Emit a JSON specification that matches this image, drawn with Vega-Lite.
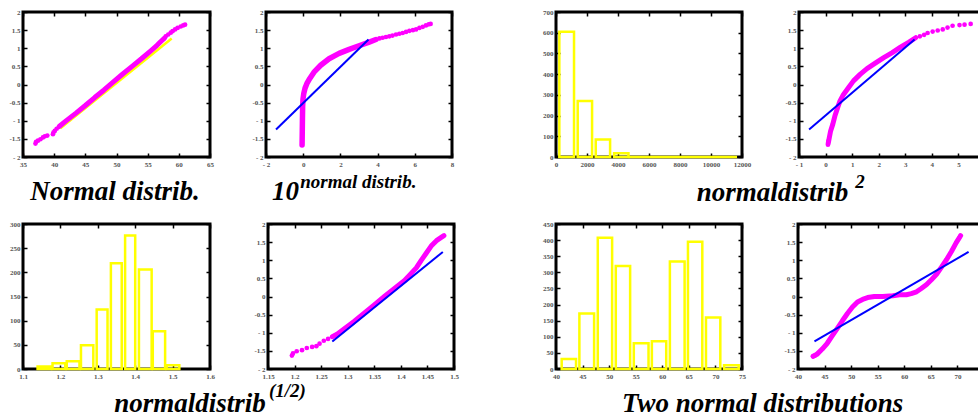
{
  "$schema": "https://vega.github.io/schema/vega-lite/v6.json",
  "padding": {"left": 7, "top": 6, "right": 0, "bottom": 0},
  "config": {
    "view": {"stroke": "#000000", "strokeWidth": 3},
    "axis": {"domain": false, "grid": false, "tickSize": -4, "tickWidth": 1.5, "tickColor": "#000000", "labelFont": "Liberation Serif", "labelFontSize": 7, "labelFontWeight": "bold", "labelColor": "#555555", "labelPadding": 7, "labelFlush": false, "labelOverlap": false, "labelBound": false},
    "title": {"font": "Liberation Serif", "fontSize": 27, "fontStyle": "italic", "fontWeight": "bold", "color": "#000000"}
  },
  "datasets": {
    "p1_fit": [{"x": 41.0, "y": -1.21}, {"x": 58.85, "y": 1.27}],
    "p1_dense": [{"x": 40.8, "y": -1.16}, {"x": 42.0, "y": -0.99}, {"x": 43.5, "y": -0.79}, {"x": 45.0, "y": -0.58}, {"x": 46.5, "y": -0.36}, {"x": 48.0, "y": -0.15}, {"x": 49.5, "y": 0.07}, {"x": 51.0, "y": 0.29}, {"x": 52.5, "y": 0.5}, {"x": 54.0, "y": 0.71}, {"x": 55.5, "y": 0.93}, {"x": 56.5, "y": 1.08}, {"x": 57.2, "y": 1.2}, {"x": 57.7, "y": 1.28}],
    "p1_dots": [{"x": 37.0, "y": -1.63}, {"x": 37.1, "y": -1.58}, {"x": 37.4, "y": -1.55}, {"x": 37.8, "y": -1.51}, {"x": 38.2, "y": -1.46}, {"x": 38.5, "y": -1.43}, {"x": 38.9, "y": -1.41}, {"x": 39.8, "y": -1.37}, {"x": 39.9, "y": -1.32}, {"x": 40.1, "y": -1.28}, {"x": 40.4, "y": -1.22}, {"x": 57.9, "y": 1.33}, {"x": 58.3, "y": 1.38}, {"x": 58.7, "y": 1.43}, {"x": 59.0, "y": 1.47}, {"x": 59.4, "y": 1.52}, {"x": 59.8, "y": 1.56}, {"x": 60.3, "y": 1.6}, {"x": 60.7, "y": 1.63}, {"x": 61.0, "y": 1.65}],
    "p2_fit": [{"x": -1.46, "y": -1.24}, {"x": 3.51, "y": 1.24}],
    "p2_dense": [{"x": -0.06, "y": -1.67}, {"x": -0.05, "y": -1.3}, {"x": -0.04, "y": -0.9}, {"x": -0.03, "y": -0.6}, {"x": -0.01, "y": -0.4}, {"x": 0.03, "y": -0.25}, {"x": 0.1, "y": -0.1}, {"x": 0.2, "y": 0.03}, {"x": 0.31, "y": 0.13}, {"x": 0.58, "y": 0.34}, {"x": 0.94, "y": 0.53}, {"x": 1.39, "y": 0.71}, {"x": 1.93, "y": 0.86}, {"x": 2.47, "y": 0.97}, {"x": 3.0, "y": 1.07}, {"x": 3.55, "y": 1.17}, {"x": 3.91, "y": 1.24}],
    "p2_dots": [{"x": 4.1, "y": 1.27}, {"x": 4.27, "y": 1.29}, {"x": 4.45, "y": 1.31}, {"x": 4.63, "y": 1.33}, {"x": 4.8, "y": 1.35}, {"x": 4.99, "y": 1.38}, {"x": 5.17, "y": 1.4}, {"x": 5.35, "y": 1.42}, {"x": 5.53, "y": 1.45}, {"x": 5.71, "y": 1.48}, {"x": 5.9, "y": 1.5}, {"x": 6.07, "y": 1.52}, {"x": 6.25, "y": 1.56}, {"x": 6.43, "y": 1.59}, {"x": 6.6, "y": 1.63}, {"x": 6.75, "y": 1.66}, {"x": 6.85, "y": 1.67}],
    "p3_bins": [{"lo": 215, "hi": 1163, "count": 605}, {"lo": 1400, "hi": 2327, "count": 270}, {"lo": 2564, "hi": 3490, "count": 85}, {"lo": 3749, "hi": 4675, "count": 18}, {"lo": 4675, "hi": 11680, "count": 0}],
    "p4_fit": [{"x": -0.62, "y": -1.24}, {"x": 3.35, "y": 1.24}],
    "p4_dense": [{"x": 0.1, "y": -1.62}, {"x": 0.14, "y": -1.47}, {"x": 0.19, "y": -1.28}, {"x": 0.27, "y": -1.1}, {"x": 0.35, "y": -0.87}, {"x": 0.45, "y": -0.65}, {"x": 0.54, "y": -0.46}, {"x": 0.67, "y": -0.28}, {"x": 0.86, "y": -0.09}, {"x": 1.05, "y": 0.1}, {"x": 1.3, "y": 0.28}, {"x": 1.56, "y": 0.44}, {"x": 1.87, "y": 0.59}, {"x": 2.19, "y": 0.74}, {"x": 2.51, "y": 0.88}, {"x": 2.82, "y": 1.03}, {"x": 3.14, "y": 1.17}, {"x": 3.39, "y": 1.29}],
    "p4_dots": [{"x": 0.09, "y": -1.66}, {"x": 0.11, "y": -1.56}, {"x": 3.55, "y": 1.33}, {"x": 3.71, "y": 1.37}, {"x": 3.84, "y": 1.42}, {"x": 4.03, "y": 1.46}, {"x": 4.22, "y": 1.49}, {"x": 4.41, "y": 1.52}, {"x": 4.59, "y": 1.57}, {"x": 4.78, "y": 1.62}, {"x": 5.04, "y": 1.64}, {"x": 5.23, "y": 1.65}, {"x": 5.46, "y": 1.67}],
    "p5_bins": [{"lo": 1.139, "hi": 1.175, "count": 5}, {"lo": 1.179, "hi": 1.213, "count": 12}, {"lo": 1.217, "hi": 1.251, "count": 16}, {"lo": 1.255, "hi": 1.288, "count": 49}, {"lo": 1.297, "hi": 1.326, "count": 123}, {"lo": 1.335, "hi": 1.364, "count": 219}, {"lo": 1.373, "hi": 1.4, "count": 276}, {"lo": 1.41, "hi": 1.444, "count": 206}, {"lo": 1.447, "hi": 1.48, "count": 78}, {"lo": 1.484, "hi": 1.518, "count": 8}],
    "p6_fit": [{"x": 1.271, "y": -1.24}, {"x": 1.479, "y": 1.23}],
    "p6_dense": [{"x": 1.271, "y": -1.11}, {"x": 1.28, "y": -1.04}, {"x": 1.293, "y": -0.9}, {"x": 1.312, "y": -0.69}, {"x": 1.331, "y": -0.46}, {"x": 1.35, "y": -0.23}, {"x": 1.369, "y": 0.0}, {"x": 1.388, "y": 0.22}, {"x": 1.407, "y": 0.44}, {"x": 1.419, "y": 0.63}, {"x": 1.429, "y": 0.79}, {"x": 1.438, "y": 0.99}, {"x": 1.448, "y": 1.2}, {"x": 1.457, "y": 1.39}, {"x": 1.467, "y": 1.54}, {"x": 1.476, "y": 1.63}, {"x": 1.481, "y": 1.68}],
    "p6_dots": [{"x": 1.195, "y": -1.63}, {"x": 1.197, "y": -1.57}, {"x": 1.204, "y": -1.51}, {"x": 1.214, "y": -1.48}, {"x": 1.223, "y": -1.42}, {"x": 1.233, "y": -1.39}, {"x": 1.241, "y": -1.37}, {"x": 1.247, "y": -1.3}, {"x": 1.255, "y": -1.22}, {"x": 1.263, "y": -1.17}],
    "p7_bins": [{"lo": 41.07, "hi": 43.77, "count": 31}, {"lo": 44.4, "hi": 47.17, "count": 172}, {"lo": 47.86, "hi": 50.56, "count": 407}, {"lo": 51.25, "hi": 53.95, "count": 320}, {"lo": 54.64, "hi": 57.41, "count": 80}, {"lo": 58.04, "hi": 60.74, "count": 86}, {"lo": 61.43, "hi": 64.2, "count": 334}, {"lo": 64.83, "hi": 67.53, "count": 395}, {"lo": 68.22, "hi": 70.92, "count": 160}, {"lo": 71.62, "hi": 74.38, "count": 12}],
    "p8_fit": [{"x": 43.1, "y": -1.24}, {"x": 72.1, "y": 1.23}],
    "p8_dense": [{"x": 42.85, "y": -1.65}, {"x": 43.6, "y": -1.59}, {"x": 44.56, "y": -1.45}, {"x": 45.5, "y": -1.29}, {"x": 46.46, "y": -1.08}, {"x": 47.4, "y": -0.88}, {"x": 48.35, "y": -0.67}, {"x": 49.3, "y": -0.47}, {"x": 50.25, "y": -0.29}, {"x": 51.2, "y": -0.15}, {"x": 52.15, "y": -0.08}, {"x": 53.1, "y": -0.03}, {"x": 54.37, "y": 0.0}, {"x": 55.95, "y": 0.0}, {"x": 57.85, "y": 0.02}, {"x": 59.1, "y": 0.05}, {"x": 60.4, "y": 0.05}, {"x": 61.3, "y": 0.08}, {"x": 62.3, "y": 0.13}, {"x": 63.2, "y": 0.22}, {"x": 64.2, "y": 0.33}, {"x": 65.1, "y": 0.46}, {"x": 66.1, "y": 0.62}, {"x": 67.0, "y": 0.81}, {"x": 67.97, "y": 1.02}, {"x": 68.9, "y": 1.25}, {"x": 69.75, "y": 1.48}, {"x": 70.4, "y": 1.63}, {"x": 70.6, "y": 1.68}],
    "p8_dots": [{"x": 42.85, "y": -1.65}, {"x": 43.2, "y": -1.63}, {"x": 43.6, "y": -1.59}]
  },
  "vconcat": [
    {
      "hconcat": [
        {
          "hconcat": [
            {
              "width": 187, "height": 145,
              "title": {"text": "Normal distrib.", "orient": "bottom", "anchor": "middle", "frame": "group", "baseline": "alphabetic", "offset": 33, "dx": -1.5},
              "layer": [
                {"data": {"name": "p1_fit"}, "mark": {"type": "line", "color": "#FFFF00", "strokeWidth": 2.5},
                 "encoding": {
                   "x": {"field": "x", "type": "quantitative", "scale": {"domain": [35, 65], "nice": false, "zero": false}, "axis": {"orient": "bottom", "values": [35, 40, 45, 50, 55, 60, 65], "title": null, "labelExpr": "(datum.value < 0 ? (datum.value == floor(datum.value) ? '- ' : '-') : '') + abs(datum.value)"}},
                   "y": {"field": "y", "type": "quantitative", "scale": {"domain": [-2, 2], "nice": false, "zero": false}, "axis": {"orient": "left", "values": [-2, -1.5, -1, -0.5, 0, 0.5, 1, 1.5, 2], "title": null, "labelExpr": "(datum.value < 0 ? (datum.value == floor(datum.value) ? '- ' : '-') : '') + abs(datum.value)"}}}},
                {"data": {"name": "p1_dense"}, "mark": {"type": "line", "color": "#FF00FF", "strokeWidth": 5, "strokeCap": "round", "strokeJoin": "round"},
                 "encoding": {
                   "x": {"field": "x", "type": "quantitative", "scale": {"domain": [35, 65], "nice": false, "zero": false}, "axis": null},
                   "y": {"field": "y", "type": "quantitative", "scale": {"domain": [-2, 2], "nice": false, "zero": false}, "axis": null}}},
                {"data": {"name": "p1_dots"}, "mark": {"type": "circle", "color": "#FF00FF", "size": 22, "opacity": 1},
                 "encoding": {
                   "x": {"field": "x", "type": "quantitative", "scale": {"domain": [35, 65], "nice": false, "zero": false}, "axis": null},
                   "y": {"field": "y", "type": "quantitative", "scale": {"domain": [-2, 2], "nice": false, "zero": false}, "axis": null}}},
                {"data": {"name": "p1_fit"}, "mark": {"type": "point", "opacity": 0},
                 "encoding": {
                   "x": {"field": "x", "type": "quantitative", "scale": {"domain": [35, 65], "nice": false, "zero": false}, "axis": {"orient": "top", "values": [35, 40, 45, 50, 55, 60, 65], "title": null, "labels": false}},
                   "y": {"field": "y", "type": "quantitative", "scale": {"domain": [-2, 2], "nice": false, "zero": false}, "axis": {"orient": "right", "values": [-2, -1.5, -1, -0.5, 0, 0.5, 1, 1.5, 2], "title": null, "labels": false}}}}
              ],
              "resolve": {"axis": {"x": "independent", "y": "independent"}}
            },
            {
              "title": {"text": "normal distrib.", "orient": "bottom", "anchor": "end", "frame": "bounds", "align": "left", "dx": -155, "baseline": "alphabetic", "offset": -18.5, "fontSize": 19},
              "hconcat": [
                {
                  "width": 186, "height": 145,
                  "title": {"text": "10", "orient": "bottom", "anchor": "start", "frame": "group", "align": "right", "dx": 33, "baseline": "alphabetic", "offset": 33},
                  "layer": [
                    {"data": {"name": "p2_dense"}, "mark": {"type": "line", "color": "#FF00FF", "strokeWidth": 5.5, "strokeCap": "round", "strokeJoin": "round"},
                     "encoding": {
                       "x": {"field": "x", "type": "quantitative", "scale": {"domain": [-2, 8], "nice": false, "zero": false}, "axis": {"orient": "bottom", "values": [-2, 0, 2, 4, 6, 8], "title": null, "labelExpr": "(datum.value < 0 ? (datum.value == floor(datum.value) ? '- ' : '-') : '') + abs(datum.value)"}},
                       "y": {"field": "y", "type": "quantitative", "scale": {"domain": [-2, 2], "nice": false, "zero": false}, "axis": {"orient": "left", "values": [-2, -1.5, -1, -0.5, 0, 0.5, 1, 1.5, 2], "title": null, "labelExpr": "(datum.value < 0 ? (datum.value == floor(datum.value) ? '- ' : '-') : '') + abs(datum.value)"}}}},
                    {"data": {"name": "p2_dots"}, "mark": {"type": "circle", "color": "#FF00FF", "size": 22, "opacity": 1},
                     "encoding": {
                       "x": {"field": "x", "type": "quantitative", "scale": {"domain": [-2, 8], "nice": false, "zero": false}, "axis": null},
                       "y": {"field": "y", "type": "quantitative", "scale": {"domain": [-2, 2], "nice": false, "zero": false}, "axis": null}}},
                    {"data": {"name": "p2_fit"}, "mark": {"type": "line", "color": "#0000FF", "strokeWidth": 2},
                     "encoding": {
                       "x": {"field": "x", "type": "quantitative", "scale": {"domain": [-2, 8], "nice": false, "zero": false}, "axis": null},
                       "y": {"field": "y", "type": "quantitative", "scale": {"domain": [-2, 2], "nice": false, "zero": false}, "axis": null}}},
                    {"data": {"name": "p2_fit"}, "mark": {"type": "point", "opacity": 0},
                     "encoding": {
                       "x": {"field": "x", "type": "quantitative", "scale": {"domain": [-2, 8], "nice": false, "zero": false}, "axis": {"orient": "top", "values": [-2, 0, 2, 4, 6, 8], "title": null, "labels": false}},
                       "y": {"field": "y", "type": "quantitative", "scale": {"domain": [-2, 2], "nice": false, "zero": false}, "axis": {"orient": "right", "values": [-2, -1.5, -1, -0.5, 0, 0.5, 1, 1.5, 2], "title": null, "labels": false}}}}
                  ],
                  "resolve": {"axis": {"x": "independent", "y": "independent"}}
                }
              ]
            }
          ],
          "spacing": 35
        },
        {
          "title": {"text": "2", "orient": "bottom", "anchor": "end", "frame": "bounds", "align": "left", "dx": -132, "baseline": "alphabetic", "offset": -17.5, "fontSize": 19},
          "hconcat": [
            {
              "title": {"text": "normaldistrib", "orient": "bottom", "anchor": "end", "frame": "bounds", "align": "right", "dx": -139, "baseline": "alphabetic", "offset": 32},
              "spacing": 30,
              "hconcat": [
                {
                  "width": 186, "height": 145,
                  "layer": [
                    {"data": {"name": "p3_bins"}, "mark": {"type": "rect", "fillOpacity": 0, "stroke": "#FFFF00", "strokeWidth": 2.5},
                     "encoding": {
                       "x": {"field": "lo", "type": "quantitative", "scale": {"domain": [0, 12000], "nice": false, "zero": false}, "axis": {"orient": "bottom", "values": [0, 2000, 4000, 6000, 8000, 10000, 12000], "title": null, "labelExpr": "(datum.value < 0 ? (datum.value == floor(datum.value) ? '- ' : '-') : '') + abs(datum.value)"}},
                       "x2": {"field": "hi"},
                       "y": {"field": "count", "type": "quantitative", "scale": {"domain": [0, 700], "nice": false, "zero": false}, "axis": {"orient": "left", "values": [0, 100, 200, 300, 400, 500, 600, 700], "title": null, "labelExpr": "(datum.value < 0 ? (datum.value == floor(datum.value) ? '- ' : '-') : '') + abs(datum.value)"}},
                       "y2": {"datum": 0}}},
                    {"data": {"name": "p3_bins"}, "mark": {"type": "point", "opacity": 0},
                     "encoding": {
                       "x": {"field": "lo", "type": "quantitative", "scale": {"domain": [0, 12000], "nice": false, "zero": false}, "axis": {"orient": "top", "values": [0, 2000, 4000, 6000, 8000, 10000, 12000], "title": null, "labels": false}},
                       "y": {"field": "count", "type": "quantitative", "scale": {"domain": [0, 700], "nice": false, "zero": false}, "axis": {"orient": "right", "values": [0, 100, 200, 300, 400, 500, 600, 700], "title": null, "labels": false}}}}
                  ],
                  "resolve": {"axis": {"x": "independent", "y": "independent"}}
                },
                {
                  "width": 186, "height": 145,
                  "layer": [
                    {"data": {"name": "p4_dense"}, "mark": {"type": "line", "color": "#FF00FF", "strokeWidth": 5, "strokeCap": "round", "strokeJoin": "round"},
                     "encoding": {
                       "x": {"field": "x", "type": "quantitative", "scale": {"domain": [-1, 6], "nice": false, "zero": false}, "axis": {"orient": "bottom", "values": [-1, 0, 1, 2, 3, 4, 5], "title": null, "labelExpr": "(datum.value < 0 ? (datum.value == floor(datum.value) ? '- ' : '-') : '') + abs(datum.value)"}},
                       "y": {"field": "y", "type": "quantitative", "scale": {"domain": [-2, 2], "nice": false, "zero": false}, "axis": {"orient": "left", "values": [-2, -1.5, -1, -0.5, 0, 0.5, 1, 1.5, 2], "title": null, "labelExpr": "(datum.value < 0 ? (datum.value == floor(datum.value) ? '- ' : '-') : '') + abs(datum.value)"}}}},
                    {"data": {"name": "p4_dots"}, "mark": {"type": "circle", "color": "#FF00FF", "size": 22, "opacity": 1},
                     "encoding": {
                       "x": {"field": "x", "type": "quantitative", "scale": {"domain": [-1, 6], "nice": false, "zero": false}, "axis": null},
                       "y": {"field": "y", "type": "quantitative", "scale": {"domain": [-2, 2], "nice": false, "zero": false}, "axis": null}}},
                    {"data": {"name": "p4_fit"}, "mark": {"type": "line", "color": "#0000FF", "strokeWidth": 2},
                     "encoding": {
                       "x": {"field": "x", "type": "quantitative", "scale": {"domain": [-1, 6], "nice": false, "zero": false}, "axis": null},
                       "y": {"field": "y", "type": "quantitative", "scale": {"domain": [-2, 2], "nice": false, "zero": false}, "axis": null}}},
                    {"data": {"name": "p4_fit"}, "mark": {"type": "point", "opacity": 0},
                     "encoding": {
                       "x": {"field": "x", "type": "quantitative", "scale": {"domain": [-1, 6], "nice": false, "zero": false}, "axis": {"orient": "top", "values": [-1, 0, 1, 2, 3, 4, 5, 6], "title": null, "labels": false}},
                       "y": {"field": "y", "type": "quantitative", "scale": {"domain": [-2, 2], "nice": false, "zero": false}, "axis": {"orient": "right", "values": [-2, -1.5, -1, -0.5, 0, 0.5, 1, 1.5, 2], "title": null, "labels": false}}}}
                  ],
                  "resolve": {"axis": {"x": "independent", "y": "independent"}}
                }
              ]
            }
          ]
        }
      ],
      "spacing": 85
    },
    {
      "hconcat": [
        {
          "title": {"text": "(1/2)", "orient": "bottom", "anchor": "end", "frame": "bounds", "align": "left", "dx": -191, "baseline": "alphabetic", "offset": -19.5, "fontSize": 19},
          "hconcat": [
            {
              "title": {"text": "normaldistrib", "orient": "bottom", "anchor": "end", "frame": "bounds", "align": "right", "dx": -194, "baseline": "alphabetic", "offset": 31},
              "spacing": 36,
              "hconcat": [
                {
                  "width": 187, "height": 145,
                  "layer": [
                    {"data": {"name": "p5_bins"}, "mark": {"type": "rect", "fillOpacity": 0, "stroke": "#FFFF00", "strokeWidth": 2.5},
                     "encoding": {
                       "x": {"field": "lo", "type": "quantitative", "scale": {"domain": [1.1, 1.6], "nice": false, "zero": false}, "axis": {"orient": "bottom", "values": [1.1, 1.2, 1.3, 1.4, 1.5, 1.6], "title": null, "labelExpr": "(datum.value < 0 ? (datum.value == floor(datum.value) ? '- ' : '-') : '') + abs(datum.value)"}},
                       "x2": {"field": "hi"},
                       "y": {"field": "count", "type": "quantitative", "scale": {"domain": [0, 300], "nice": false, "zero": false}, "axis": {"orient": "left", "values": [0, 50, 100, 150, 200, 250, 300], "title": null, "labelExpr": "(datum.value < 0 ? (datum.value == floor(datum.value) ? '- ' : '-') : '') + abs(datum.value)"}},
                       "y2": {"datum": 0}}},
                    {"data": {"name": "p5_bins"}, "mark": {"type": "point", "opacity": 0},
                     "encoding": {
                       "x": {"field": "lo", "type": "quantitative", "scale": {"domain": [1.1, 1.6], "nice": false, "zero": false}, "axis": {"orient": "top", "values": [1.1, 1.2, 1.3, 1.4, 1.5, 1.6], "title": null, "labels": false}},
                       "y": {"field": "count", "type": "quantitative", "scale": {"domain": [0, 300], "nice": false, "zero": false}, "axis": {"orient": "right", "values": [0, 50, 100, 150, 200, 250, 300], "title": null, "labels": false}}}}
                  ],
                  "resolve": {"axis": {"x": "independent", "y": "independent"}}
                },
                {
                  "width": 186, "height": 145,
                  "layer": [
                    {"data": {"name": "p6_dense"}, "mark": {"type": "line", "color": "#FF00FF", "strokeWidth": 5, "strokeCap": "round", "strokeJoin": "round"},
                     "encoding": {
                       "x": {"field": "x", "type": "quantitative", "scale": {"domain": [1.15, 1.5], "nice": false, "zero": false}, "axis": {"orient": "bottom", "values": [1.15, 1.2, 1.25, 1.3, 1.35, 1.4, 1.45, 1.5], "title": null, "labelExpr": "(datum.value < 0 ? (datum.value == floor(datum.value) ? '- ' : '-') : '') + abs(datum.value)"}},
                       "y": {"field": "y", "type": "quantitative", "scale": {"domain": [-2, 2], "nice": false, "zero": false}, "axis": {"orient": "left", "values": [-2, -1.5, -1, -0.5, 0, 0.5, 1, 1.5, 2], "title": null, "labelExpr": "(datum.value < 0 ? (datum.value == floor(datum.value) ? '- ' : '-') : '') + abs(datum.value)"}}}},
                    {"data": {"name": "p6_dots"}, "mark": {"type": "circle", "color": "#FF00FF", "size": 22, "opacity": 1},
                     "encoding": {
                       "x": {"field": "x", "type": "quantitative", "scale": {"domain": [1.15, 1.5], "nice": false, "zero": false}, "axis": null},
                       "y": {"field": "y", "type": "quantitative", "scale": {"domain": [-2, 2], "nice": false, "zero": false}, "axis": null}}},
                    {"data": {"name": "p6_fit"}, "mark": {"type": "line", "color": "#0000FF", "strokeWidth": 2},
                     "encoding": {
                       "x": {"field": "x", "type": "quantitative", "scale": {"domain": [1.15, 1.5], "nice": false, "zero": false}, "axis": null},
                       "y": {"field": "y", "type": "quantitative", "scale": {"domain": [-2, 2], "nice": false, "zero": false}, "axis": null}}},
                    {"data": {"name": "p6_fit"}, "mark": {"type": "point", "opacity": 0},
                     "encoding": {
                       "x": {"field": "x", "type": "quantitative", "scale": {"domain": [1.15, 1.5], "nice": false, "zero": false}, "axis": {"orient": "top", "values": [1.15, 1.2, 1.25, 1.3, 1.35, 1.4, 1.45, 1.5], "title": null, "labels": false}},
                       "y": {"field": "y", "type": "quantitative", "scale": {"domain": [-2, 2], "nice": false, "zero": false}, "axis": {"orient": "right", "values": [-2, -1.5, -1, -0.5, 0, 0.5, 1, 1.5, 2], "title": null, "labels": false}}}}
                  ],
                  "resolve": {"axis": {"x": "independent", "y": "independent"}}
                }
              ]
            }
          ]
        },
        {
          "title": {"text": "Two normal distributions", "orient": "bottom", "anchor": "middle", "frame": "bounds", "dx": -1, "baseline": "alphabetic", "offset": 31},
          "spacing": 35,
          "hconcat": [
            {
              "width": 186, "height": 145,
              "layer": [
                {"data": {"name": "p7_bins"}, "mark": {"type": "rect", "fillOpacity": 0, "stroke": "#FFFF00", "strokeWidth": 2.5},
                 "encoding": {
                   "x": {"field": "lo", "type": "quantitative", "scale": {"domain": [40, 75], "nice": false, "zero": false}, "axis": {"orient": "bottom", "values": [40, 45, 50, 55, 60, 65, 70, 75], "title": null, "labelExpr": "(datum.value < 0 ? (datum.value == floor(datum.value) ? '- ' : '-') : '') + abs(datum.value)"}},
                   "x2": {"field": "hi"},
                   "y": {"field": "count", "type": "quantitative", "scale": {"domain": [0, 450], "nice": false, "zero": false}, "axis": {"orient": "left", "values": [0, 50, 100, 150, 200, 250, 300, 350, 400, 450], "title": null, "labelExpr": "(datum.value < 0 ? (datum.value == floor(datum.value) ? '- ' : '-') : '') + abs(datum.value)"}},
                   "y2": {"datum": 0}}},
                {"data": {"name": "p7_bins"}, "mark": {"type": "point", "opacity": 0},
                 "encoding": {
                   "x": {"field": "lo", "type": "quantitative", "scale": {"domain": [40, 75], "nice": false, "zero": false}, "axis": {"orient": "top", "values": [40, 45, 50, 55, 60, 65, 70, 75], "title": null, "labels": false}},
                   "y": {"field": "count", "type": "quantitative", "scale": {"domain": [0, 450], "nice": false, "zero": false}, "axis": {"orient": "right", "values": [0, 50, 100, 150, 200, 250, 300, 350, 400, 450], "title": null, "labels": false}}}}
              ],
              "resolve": {"axis": {"x": "independent", "y": "independent"}}
            },
            {
              "width": 186, "height": 145,
              "layer": [
                {"data": {"name": "p8_dense"}, "mark": {"type": "line", "color": "#FF00FF", "strokeWidth": 5, "strokeCap": "round", "strokeJoin": "round"},
                 "encoding": {
                   "x": {"field": "x", "type": "quantitative", "scale": {"domain": [40, 75], "nice": false, "zero": false}, "axis": {"orient": "bottom", "values": [40, 45, 50, 55, 60, 65, 70], "title": null, "labelExpr": "(datum.value < 0 ? (datum.value == floor(datum.value) ? '- ' : '-') : '') + abs(datum.value)"}},
                   "y": {"field": "y", "type": "quantitative", "scale": {"domain": [-2, 2], "nice": false, "zero": false}, "axis": {"orient": "left", "values": [-2, -1.5, -1, -0.5, 0, 0.5, 1, 1.5, 2], "title": null, "labelExpr": "(datum.value < 0 ? (datum.value == floor(datum.value) ? '- ' : '-') : '') + abs(datum.value)"}}}},
                {"data": {"name": "p8_dots"}, "mark": {"type": "circle", "color": "#FF00FF", "size": 22, "opacity": 1},
                 "encoding": {
                   "x": {"field": "x", "type": "quantitative", "scale": {"domain": [40, 75], "nice": false, "zero": false}, "axis": null},
                   "y": {"field": "y", "type": "quantitative", "scale": {"domain": [-2, 2], "nice": false, "zero": false}, "axis": null}}},
                {"data": {"name": "p8_fit"}, "mark": {"type": "line", "color": "#0000FF", "strokeWidth": 2},
                 "encoding": {
                   "x": {"field": "x", "type": "quantitative", "scale": {"domain": [40, 75], "nice": false, "zero": false}, "axis": null},
                   "y": {"field": "y", "type": "quantitative", "scale": {"domain": [-2, 2], "nice": false, "zero": false}, "axis": null}}},
                {"data": {"name": "p8_fit"}, "mark": {"type": "point", "opacity": 0},
                 "encoding": {
                   "x": {"field": "x", "type": "quantitative", "scale": {"domain": [40, 75], "nice": false, "zero": false}, "axis": {"orient": "top", "values": [40, 45, 50, 55, 60, 65, 70, 75], "title": null, "labels": false}},
                   "y": {"field": "y", "type": "quantitative", "scale": {"domain": [-2, 2], "nice": false, "zero": false}, "axis": {"orient": "right", "values": [-2, -1.5, -1, -0.5, 0, 0.5, 1, 1.5, 2], "title": null, "labels": false}}}}
              ],
              "resolve": {"axis": {"x": "independent", "y": "independent"}}
            }
          ]
        }
      ],
      "spacing": 81
    }
  ],
  "spacing": 11
}
